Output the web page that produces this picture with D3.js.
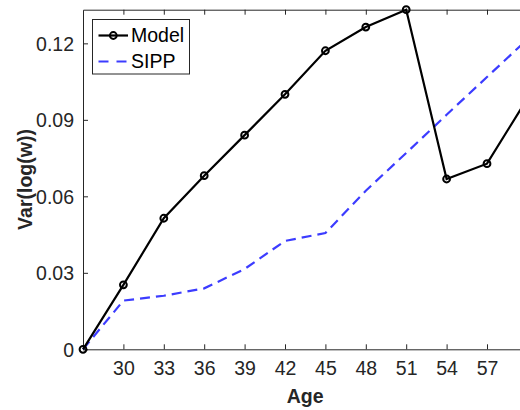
<!DOCTYPE html>
<html>
<head>
<meta charset="utf-8">
<script src="https://cdn.jsdelivr.net/npm/d3@7/dist/d3.min.js"></script>
<style>
  html, body { margin: 0; padding: 0; background: #fff; overflow: hidden; }
  svg { display: block; font-family: "Liberation Sans", Arial, Helvetica, sans-serif; }
</style>
</head>
<body>
<svg id="chart" width="520" height="410"></svg>
<script>
// Ages at which the variance of log wages is reported
const ages = [27, 30, 33, 36, 39, 42, 45, 48, 51, 54, 57, 60];
// Variance of log wages, simulated model
const modelVar = [0, 0.0253, 0.0514, 0.0681, 0.0840, 0.1000, 0.1171, 0.1264, 0.1332, 0.0668, 0.0728, 0.0984];
// Variance of log wages, SIPP data
const sippVar = [0, 0.0191, 0.0210, 0.0239, 0.0315, 0.0425, 0.0456, 0.0622, 0.0770, 0.0920, 0.1068, 0.1216];
// Tick values
const xTicks = [30, 33, 36, 39, 42, 45, 48, 51, 54, 57];
const yTicks = [0, 0.03, 0.06, 0.09, 0.12];
const seriesNames = ["Model", "SIPP"];

const svg = d3.select("#chart");
const plotLeft = 83, plotRight = 527.4, plotTop = 9.7, plotBottom = 349.3;
const axisColor = "#262626";
const blue = "#3c3cff";

const x = d3.scaleLinear().domain([27, 60]).range([plotLeft, plotRight]);
const y = d3.scaleLinear().domain([0, d3.max(modelVar)]).range([plotBottom, plotTop]);

// Box axes: bottom, top, left (inward ticks)
const gx = svg.append("g").attr("transform", `translate(0,${plotBottom})`)
  .call(d3.axisBottom(x).tickValues(xTicks).tickSizeInner(-5).tickSizeOuter(0).tickPadding(12).tickFormat(d3.format("d")));
const gxTop = svg.append("g").attr("transform", `translate(0,${plotTop})`)
  .call(d3.axisTop(x).tickValues(xTicks).tickSizeInner(-5).tickSizeOuter(0).tickFormat(""));
const gy = svg.append("g").attr("transform", `translate(${plotLeft},0)`)
  .call(d3.axisLeft(y).tickValues(yTicks).tickSizeInner(-5).tickSizeOuter(0).tickPadding(9)
    .tickFormat(d => d === 0 ? "0" : d3.format(".2f")(d)));

[gx, gxTop, gy].forEach(g => {
  g.selectAll(".domain").attr("stroke", axisColor).attr("stroke-width", 1);
  g.selectAll(".tick line").attr("stroke", axisColor).attr("stroke-width", 1);
  g.selectAll(".tick text").attr("fill", axisColor).attr("font-size", 19.5);
});
gy.selectAll(".tick text").attr("dy", "0.35em");

// Axis titles
svg.append("text")
  .attr("x", (plotLeft + plotRight) / 2).attr("y", 403)
  .attr("text-anchor", "middle").attr("font-weight", "bold").attr("font-size", 19.5)
  .attr("fill", axisColor).text("Age");
svg.append("text")
  .attr("transform", `translate(32,${(plotTop + plotBottom) / 2}) rotate(-90)`)
  .attr("text-anchor", "middle").attr("font-weight", "bold").attr("font-size", 19.5)
  .attr("fill", axisColor).text("Var(log(w))");

// Plot lines
const line = d3.line().x((d, i) => x(ages[i])).y(d => y(d));

svg.append("path").datum(sippVar)
  .attr("fill", "none").attr("stroke", blue).attr("stroke-width", 2.2)
  .attr("stroke-dasharray", "10,6").attr("d", line);

svg.append("path").datum(modelVar)
  .attr("fill", "none").attr("stroke", "#000").attr("stroke-width", 2.2)
  .attr("d", line);

svg.append("g").selectAll("circle").data(modelVar).join("circle")
  .attr("cx", (d, i) => x(ages[i])).attr("cy", d => y(d))
  .attr("r", 3.4).attr("fill", "none").attr("stroke", "#000").attr("stroke-width", 2);

// Legend
const lg = svg.append("g");
lg.append("rect").attr("x", 92.5).attr("y", 19.5).attr("width", 97).attr("height", 54.5)
  .attr("fill", "#fff").attr("stroke", axisColor).attr("stroke-width", 1);
const rows = [
  { name: seriesNames[0], color: "#000", dash: null, marker: true, cy: 35.5 },
  { name: seriesNames[1], color: blue, dash: "10,8", marker: false, cy: 61.5 }
];
rows.forEach(r => {
  lg.append("line").attr("x1", 98.5).attr("x2", 128).attr("y1", r.cy).attr("y2", r.cy)
    .attr("stroke", r.color).attr("stroke-width", 2.2)
    .attr("stroke-dasharray", r.dash);
  if (r.marker) {
    lg.append("circle").attr("cx", 113.3).attr("cy", r.cy).attr("r", 3.4)
      .attr("fill", "none").attr("stroke", "#000").attr("stroke-width", 2);
  }
  lg.append("text").attr("x", 131).attr("y", r.cy).attr("dy", "0.35em")
    .attr("font-size", 19.5).attr("fill", "#000").text(r.name);
});
</script>
</body>
</html>
